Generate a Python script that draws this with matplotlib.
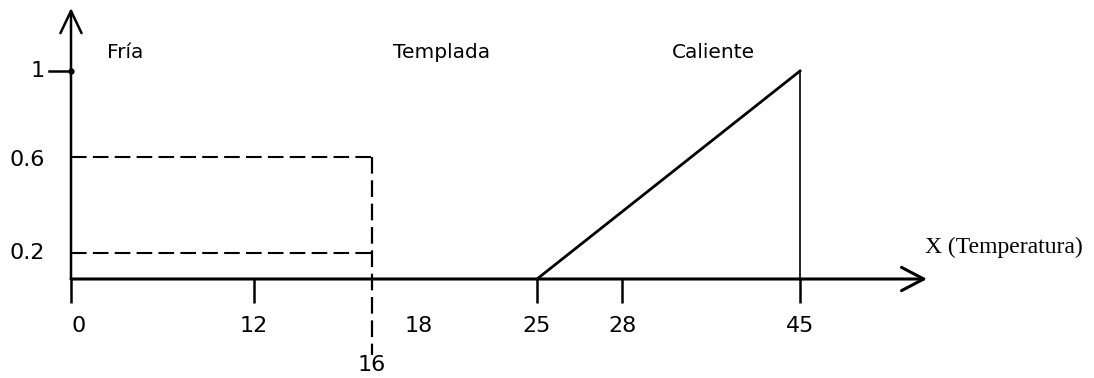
import numpy as np
import matplotlib
matplotlib.use("Agg")
import matplotlib.pyplot as plt

# --- data -------------------------------------------------------------
temp_ticks = [0, 12, 16, 25, 28, 45]          # ticks drawn on the temperature axis
temp_labels = [0, 12, 16, 18, 25, 28, 45]     # numbers printed under the axis
member_labels = [1, 0.6, 0.2]                 # numbers printed beside the vertical axis
category_names = ["Fría", "Templada", "Caliente"]

# "Fría" cut levels (dashed) and the edge of the Fría support
fria_levels = [0.6, 0.2]
fria_edge = 16

# "Caliente" membership: rises linearly from 25 to 45
caliente_x = [25, 45]
caliente_mu = [0, 1]

# --- schematic (non-uniform) axis layout --------------------------------
x_knots = [0, 12, 16, 18, 25, 28, 45]
x_pos = [71, 254, 372, 419, 537, 622, 800]
y_knots = [0, 0.2, 0.6, 1]
y_pos = [99, 125, 221, 307]
W, H = 1094, 378


def piecewise(src, dst):
    src = np.asarray(src, float)
    dst = np.asarray(dst, float)

    def f(v):
        v = np.asarray(v, float)
        out = np.interp(v, src, dst)
        lo_slope = (dst[1] - dst[0]) / (src[1] - src[0])
        hi_slope = (dst[-1] - dst[-2]) / (src[-1] - src[-2])
        out = np.where(v < src[0], dst[0] + (v - src[0]) * lo_slope, out)
        out = np.where(v > src[-1], dst[-1] + (v - src[-1]) * hi_slope, out)
        return out
    return f


xf, xi = piecewise(x_knots, x_pos), piecewise(x_pos, x_knots)
yf, yi = piecewise(y_knots, y_pos), piecewise(y_pos, y_knots)

fig = plt.figure(figsize=(W / 100, H / 100), dpi=100)
ax = fig.add_axes([0, 0, 1, 1])
ax.set_xscale("function", functions=(xf, xi))
ax.set_yscale("function", functions=(yf, yi))
ax.set_xlim(float(xi(0)), float(xi(W)))
ax.set_ylim(float(yi(0)), float(yi(H)))
ax.axis("off")

PX = 0.72  # points per pixel
sans = "DejaVu Sans"
tick_bottom = float(yi(yf(0) - 24))
dash_bottom = float(yi(yf(0) - 76))
dash = (0, (7.5, 3.0))

# axes with open arrow heads
ax.annotate("", xy=(927 / W, 0), xycoords=("axes fraction", "data"),
            xytext=(0, 0), textcoords="data",
            arrowprops=dict(arrowstyle="->,head_length=0.8,head_width=0.42",
                            lw=2.2, color="black", shrinkA=0, shrinkB=0,
                            mutation_scale=20))
ax.annotate("", xy=(0, 1 - 8 / H), xycoords=("data", "axes fraction"),
            xytext=(0, 0), textcoords="data",
            arrowprops=dict(arrowstyle="->,head_length=0.8,head_width=0.38",
                            lw=1.8, color="black", shrinkA=0, shrinkB=0,
                            mutation_scale=20))

# tick marks below the temperature axis
for t in temp_ticks:
    if t == fria_edge:
        continue
    ax.plot([t, t], [0, tick_bottom], color="black", lw=1.8,
            solid_capstyle="butt")

# tick for membership 1
ax.plot([float(xi(xf(0) - 22)), 0], [1, 1], color="black", lw=1.8)
ax.plot([0], [1], marker="o", ms=3.5, color="black")

# Fría: dashed cut levels and dashed edge
for lvl in fria_levels:
    ax.plot([0, fria_edge], [lvl, lvl], color="black", lw=1.5, ls=dash)
ax.plot([fria_edge, fria_edge], [max(fria_levels), dash_bottom],
        color="black", lw=1.6, ls=dash)

# Caliente: ramp and vertical drop
ax.plot(caliente_x, caliente_mu, color="black", lw=2.0)
ax.plot([caliente_x[-1], caliente_x[-1]], [caliente_mu[-1], 0],
        color="black", lw=1.2)

# temperature labels
for t in temp_labels:
    dx, dy = 0, -47
    if t == 0:
        dx = 8
    if t == fria_edge:
        dy = -86
    ax.annotate(str(t), xy=(t, 0), xytext=(dx * PX, dy * PX),
                textcoords="offset points", ha="center", va="center",
                fontsize=16, family=sans, color="black")

# membership labels
for m, dy in zip(member_labels, [0, -3, 0]):
    ax.annotate(str(m), xy=(0, m), xytext=(-26 * PX, dy * PX),
                textcoords="offset points", ha="right", va="center",
                fontsize=16, family=sans, color="black")

# category names
for name, left in zip(category_names, [107, 393, 672]):
    ax.text(left / W, 1 - 58 / H, name, transform=ax.transAxes,
            ha="left", va="baseline", fontsize=14.5, family=sans,
            color="black")

ax.text(925 / W, 1 - 253 / H, "X (Temperatura)", transform=ax.transAxes,
        ha="left", va="baseline", fontsize=17,
        family="Liberation Serif", color="black")

fig.savefig("out.png", dpi=100)
